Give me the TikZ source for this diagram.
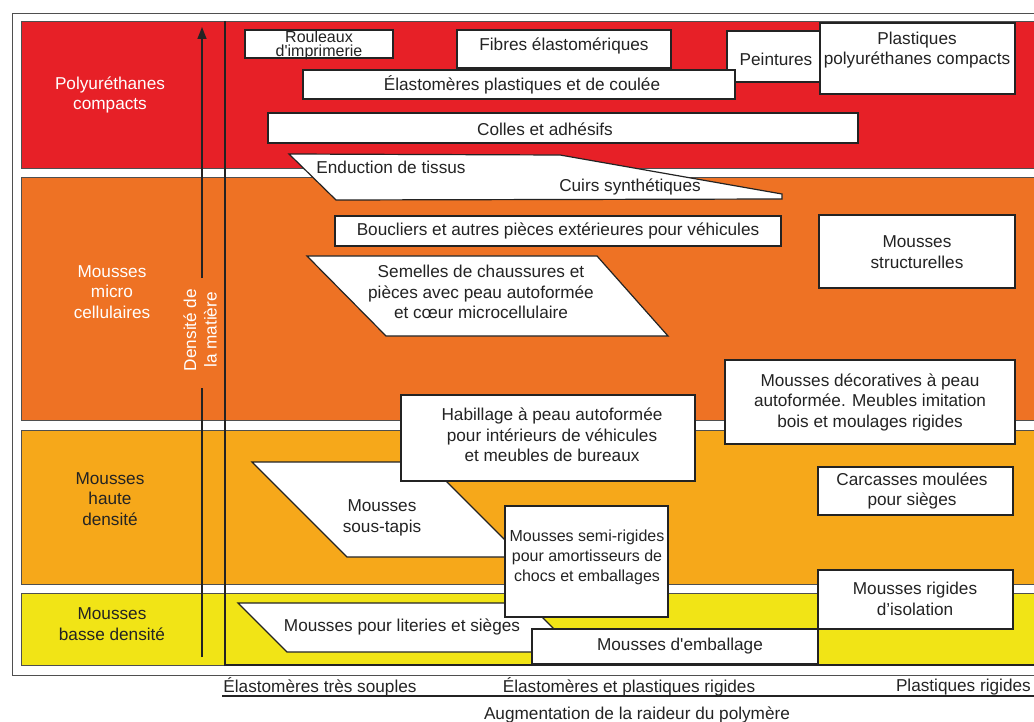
\documentclass[tikz,border=0pt]{standalone}
\usepackage{fontspec}
\setmainfont{Liberation Sans}
\usetikzlibrary{arrows.meta}
\definecolor{ink}{RGB}{35,35,35}
\definecolor{bandred}{RGB}{231,32,39}
\definecolor{bandorange}{RGB}{238,114,36}
\definecolor{bandamber}{RGB}{246,168,26}
\definecolor{bandyellow}{RGB}{241,228,22}
\newcommand\fs{\fontsize{17.2}{20.5}\selectfont}
\tikzset{
  shp/.style={draw=ink, fill=white, line width=1.2pt, line join=miter},
  band/.style={draw=ink!80, line width=0.8pt},
  txt/.style={font=\fs, text=ink, align=center, inner sep=0pt},
  wtxt/.style={txt, text=white},
  axisline/.style={draw=ink, line width=1.6pt},
}
\begin{document}
\begin{tikzpicture}[x=1pt,y=-1pt]
\useasboundingbox (0,0) rectangle (1034,722);
\clip (0,0) rectangle (1034,722);
% outer frame
\draw[draw=ink!80, line width=0.9pt] (12,13) rectangle (1050,675);
% bands
\draw[band, fill=bandred] (21,21) rectangle (1050,168);
\draw[band, fill=bandorange] (21,177) rectangle (1050,420);
\draw[band, fill=bandamber] (21,430) rectangle (1050,584);
\draw[band, fill=bandyellow] (21,593) rectangle (1050,665);
% band labels
\node[wtxt] (lpc) at (110,95) {Polyuréthanes\\compacts};
\node[wtxt] (lmc) at (112,292) {Mousses\\micro\\cellulaires};
\node[txt] (lhd) at (110,499) {Mousses\\haute\\densité};
\node[txt] (lbd) at (112,624) {Mousses\\basse densité};
% density arrow
\node[wtxt, rotate=90] (dens) at (200,330) {Densité de\\la matière};
\coordinate (abot) at (202,657);
\coordinate (agapb) at (202,388);
\coordinate (agapt) at (202,278);
\coordinate (atop) at (202,27);
\draw[axisline] (abot) -- (agapb);
\draw[axisline, -{Triangle[length=12pt,width=9pt]}] (agapt) -- (atop);
% ---- red band boxes
\draw[shp] (245,30) rectangle (393,58);
\node[txt, font=\fontsize{16}{14}\selectfont] (rouleaux) at (319,45) {Rouleaux\\d\textquotesingle imprimerie};
\draw[shp] (457,30) rectangle (671,68);
\node[txt] (fibres) at (564,46) {Fibres élastomériques};
\draw[shp] (727,31) rectangle (820,82);
\node[txt] (peintures) at (776,59) {Peintures};
\draw[shp] (820,23) rectangle (1015,94);
\node[txt] (plastiques) at (917,50) {Plastiques\\polyuréthanes compacts};
\draw[shp] (303,70) rectangle (735,99);
\node[txt] (elasto) at (522,85) {Élastomères plastiques et de coulée};
\draw[shp] (268,113) rectangle (858,143);
\node[txt] (colles) at (545,129) {Colles et adhésifs};
\draw[shp] (289,154) -- (560,155) -- (782,194) -- (782,199) -- (336,200) -- cycle;
\node[txt] (enduction) at (391,167) {Enduction de tissus};
\node[txt] (cuirs) at (630,187) {Cuirs synthétiques};
% ---- orange band boxes
\draw[shp] (335,216) rectangle (781,246);
\node[txt] (boucliers) at (558,231) {Boucliers et autres pièces extérieures pour véhicules};
\draw[shp] (307,256) -- (597,256) -- (668,336) -- (386,336) -- cycle;
\node[txt] (semelles) at (481,292) {Semelles de chaussures et\\pièces avec peau autoformée\\et cœur microcellulaire};
\draw[shp] (819,215) rectangle (1015,288);
\node[txt] (struct) at (917,252) {Mousses\\structurelles};
\draw[shp] (725,360) rectangle (1015,444);
\node[txt] (decor) at (870,402) {Mousses décoratives à peau\\autoformée. Meubles imitation\\bois et moulages rigides};
% ---- haute densite boxes
\draw[shp] (252,462) -- (427,462) -- (522,557) -- (347,557) -- cycle;
\node[txt] (soustapis) at (382,518) {Mousses\\sous-tapis};
\draw[shp] (401,395) rectangle (695,481);
\node[txt] (habillage) at (552,435) {Habillage à peau autoformée\\pour intérieurs de véhicules\\et meubles de bureaux};
\draw[shp] (818,467) rectangle (1013,515);
\node[txt] (carcasses) at (912,491) {Carcasses moulées\\pour sièges};
% ---- basse densite boxes
\draw[shp] (238,603) -- (528,603) -- (577,652) -- (287,652) -- cycle;
\node[txt] (literies) at (402,627) {Mousses pour literies et sièges};
\draw[shp] (505,506) rectangle (668,617);
\node[txt, font=\fontsize{16}{20}\selectfont] (semirig) at (587,557) {Mousses semi-rigides\\pour amortisseurs de\\chocs et emballages};
\draw[shp] (532,629) rectangle (818,664);
\node[txt] (emballage) at (680,646) {Mousses d\textquotesingle emballage};
\draw[shp] (818,570) rectangle (1013,629);
\node[txt] (isolation) at (915,599) {Mousses rigides\\d’isolation};
% stiffness axis
\coordinate (vtop) at (225,21);
\coordinate (corner) at (225,665);
\coordinate (hend) at (1050,665);
\draw[draw=ink, line width=2pt] (vtop) -- (corner) -- (hend);
% bottom labels
\node[txt] (soft) at (320,687) {Élastomères très souples};
\node[txt] (mid) at (629,687) {Élastomères et plastiques rigides};
\node[txt, anchor=east] (rigid) at (1031,687) {Plastiques rigides};
\coordinate (ulstart) at (222,696);
\coordinate (ulend) at (1050,696);
\draw[draw=ink, line width=2.4pt] (ulstart) -- (ulend);
\node[txt] (augm) at (637,715) {Augmentation de la raideur du polymère};
\end{tikzpicture}
\end{document}
